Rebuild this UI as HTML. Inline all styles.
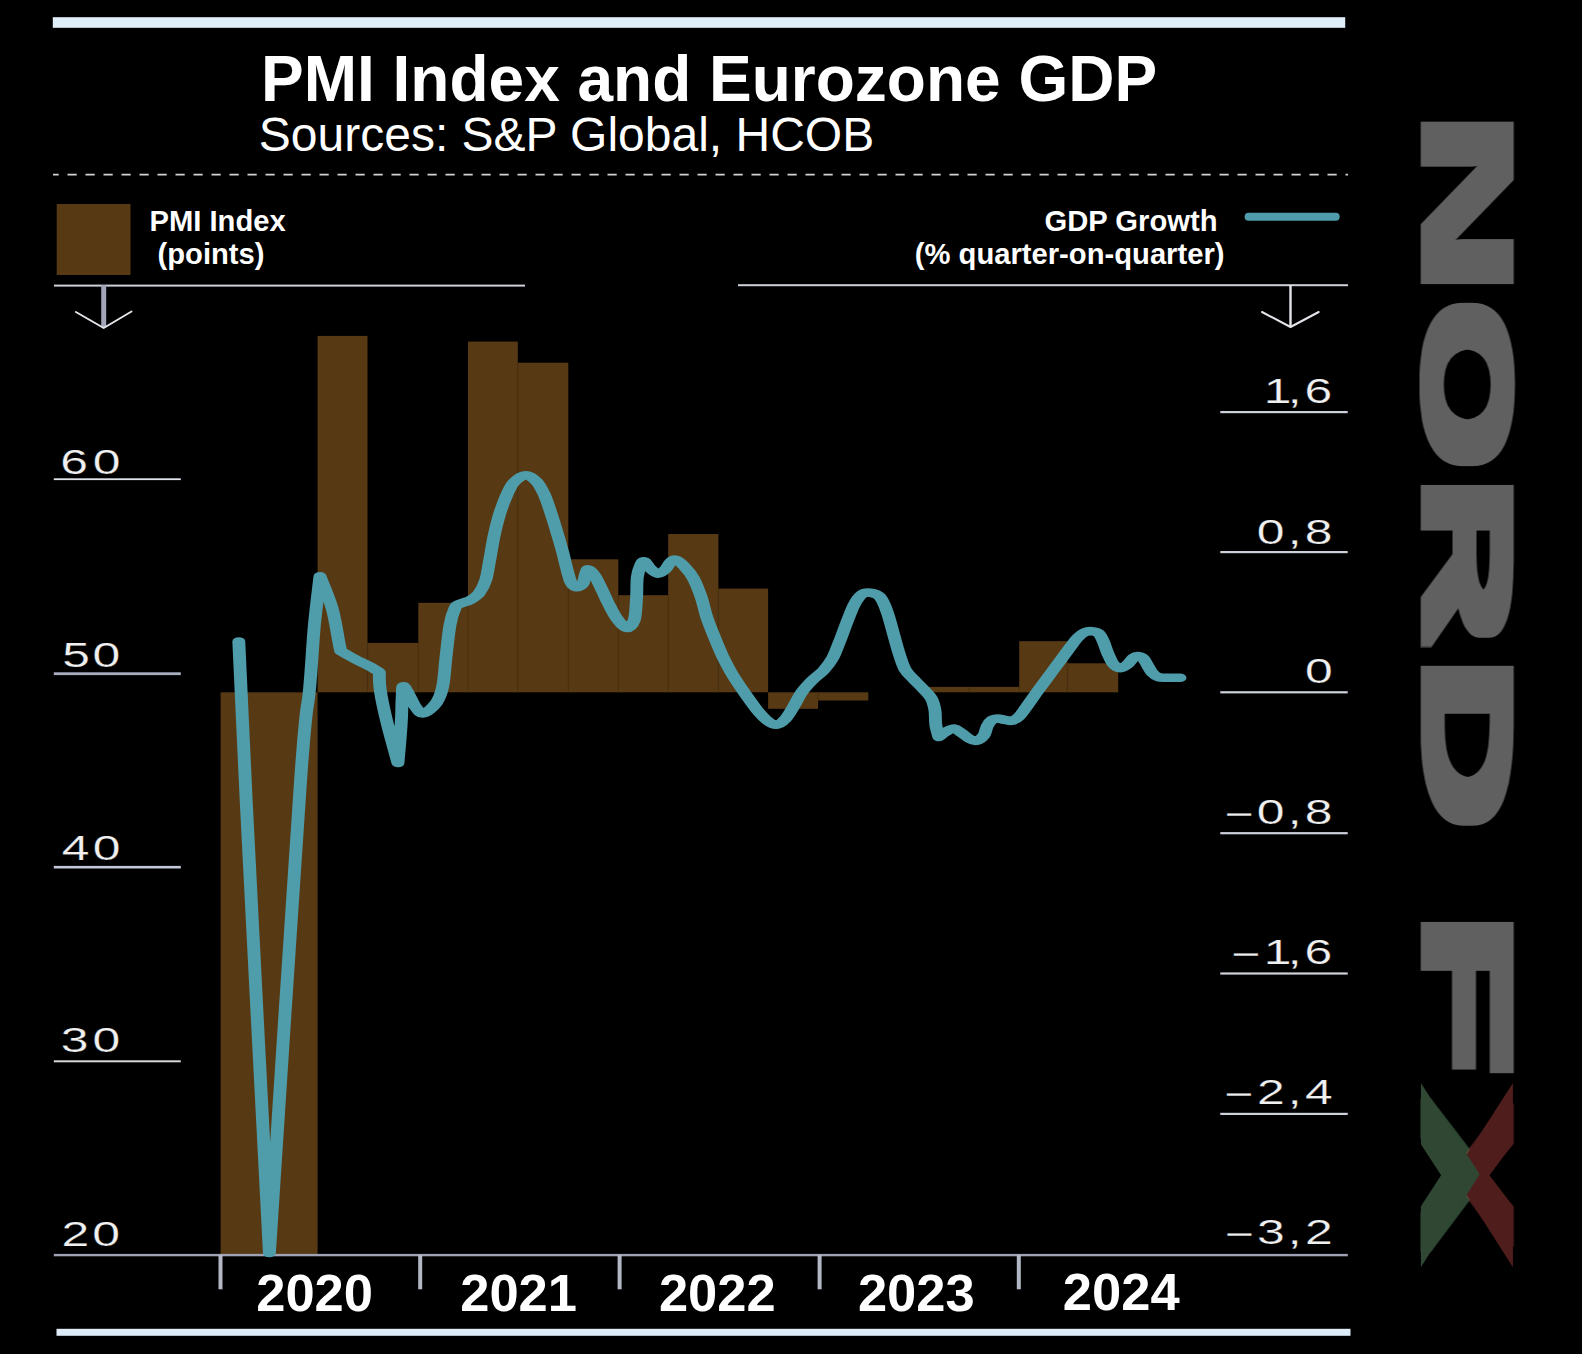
<!DOCTYPE html>
<html lang="en">
<head>
<meta charset="utf-8">
<title>PMI Index and Eurozone GDP</title>
<style>
html,body{margin:0;padding:0;background:#000;}
body{width:1582px;height:1354px;overflow:hidden;font-family:"Liberation Sans",sans-serif;}
svg{display:block;}
text{font-family:"Liberation Sans",sans-serif;fill:#fff;}
.title{font-weight:bold;font-size:64px;}
.sub{font-size:48px;}
.lg{font-weight:bold;font-size:29.2px;}
.ax{font-size:34.4px;fill:#f0f0f0;stroke:#000;stroke-width:0.25px;}
.yr{font-weight:bold;font-size:52.5px;}
.ln{fill:#cdd1da;}
.logo{font-family:"Liberation Mono","Liberation Sans",sans-serif;font-weight:bold;font-size:126.2px;fill:#616161;}
</style>
</head>
<body>
<svg width="1582" height="1354" viewBox="0 0 1582 1354">
<defs>
<linearGradient id="fx" gradientUnits="userSpaceOnUse" x1="0" y1="-93" x2="0" y2="0"><stop offset="0.5" stop-color="#4f1d1c"/><stop offset="0.5" stop-color="#2f4733"/></linearGradient>
<filter id="fat" x="-5%" y="-30%" width="110%" height="160%"><feMorphology operator="dilate" radius="0.8 5.2"/></filter>
</defs>
<rect width="1582" height="1354" fill="#000"/>

<!-- frame rules -->
<rect x="52.8" y="17.2" width="1292.4" height="10.6" fill="#e0eefa"/>
<rect x="56.5" y="1328.8" width="1294" height="7" fill="#deecf8"/>

<!-- heading -->
<text class="title" x="261" y="100.7">PMI Index and Eurozone GDP</text>
<text class="sub" x="258.8" y="151.3">Sources: S&amp;P Global, HCOB</text>
<line x1="53" y1="174.6" x2="1348" y2="174.6" stroke="#d2d2d2" stroke-width="1.9" stroke-dasharray="9.2 8.8" stroke-dashoffset="3.5"/>

<!-- legend -->
<rect x="56.7" y="204" width="73.8" height="71" fill="#573a14"/>
<text class="lg" x="149.5" y="231.2">PMI Index</text>
<text class="lg" x="157.5" y="263.8">(points)</text>
<text class="lg" text-anchor="end" x="1217.5" y="230.7">GDP Growth</text>
<text class="lg" text-anchor="end" x="1224.5" y="264.1">(% quarter-on-quarter)</text>
<line x1="1248.6" y1="216.8" x2="1335.7" y2="216.8" stroke="#4f9caa" stroke-width="8" stroke-linecap="round"/>

<!-- header rules + arrows -->
<rect class="ln" x="54" y="284.6" width="471" height="2"/>
<rect class="ln" x="738" y="284.2" width="610" height="2"/>
<rect x="101.2" y="285" width="5" height="42" fill="#a2a6b8"/>
<path d="M75.9 312 L103.7 328 L131.5 311.5" fill="none" stroke="#e4e4ea" stroke-width="2" stroke-linejoin="round" stroke-linecap="round"/>
<rect x="1289.3" y="285" width="2.4" height="42" fill="#e4e4ea"/>
<path d="M1262 312 L1290.5 327 L1318.7 312" fill="none" stroke="#e4e4ea" stroke-width="2" stroke-linejoin="round" stroke-linecap="round"/>

<!-- bars -->
<g fill="#573a14"><rect x="220.6" y="692.3" width="97.0" height="562.5"/><rect x="317.6" y="335.9" width="49.9" height="356.4"/><rect x="367.5" y="642.9" width="50.8" height="49.4"/><rect x="418.3" y="602.8" width="49.7" height="89.5"/><rect x="468.0" y="341.6" width="49.8" height="350.7"/><rect x="517.8" y="362.7" width="50.5" height="329.6"/><rect x="568.3" y="559.3" width="50.0" height="133.0"/><rect x="618.3" y="595.2" width="49.9" height="97.1"/><rect x="668.2" y="534.0" width="50.2" height="158.3"/><rect x="718.4" y="588.6" width="49.7" height="103.7"/><rect x="768.1" y="692.3" width="50.0" height="16.5"/><rect x="818.1" y="692.3" width="50.2" height="8.2"/><rect x="918.5" y="686.9" width="51.0" height="5.4"/><rect x="969.5" y="686.9" width="49.7" height="5.4"/><rect x="1019.2" y="641.2" width="48.3" height="51.1"/><rect x="1067.5" y="663.3" width="50.7" height="29.0"/></g>
<g fill="#4b3110" opacity="0.75"><rect x="366.8" y="642.9" width="1.4" height="49.4"/><rect x="417.6" y="642.9" width="1.4" height="49.4"/><rect x="467.3" y="602.8" width="1.4" height="89.5"/><rect x="517.1" y="362.7" width="1.4" height="329.6"/><rect x="567.6" y="559.3" width="1.4" height="133.0"/><rect x="617.6" y="595.2" width="1.4" height="97.1"/><rect x="667.5" y="595.2" width="1.4" height="97.1"/><rect x="717.7" y="588.6" width="1.4" height="103.7"/><rect x="817.4" y="692.3" width="1.4" height="8.2"/><rect x="968.8" y="686.9" width="1.4" height="5.4"/><rect x="1018.5" y="686.9" width="1.4" height="5.4"/><rect x="1066.8" y="663.3" width="1.4" height="29.0"/></g>

<!-- axes -->
<rect fill="#9ea2b4" x="53.8" y="1253.9" width="1294" height="2.4"/>
<g fill="#b4b8c4"><rect x="218.5" y="1254.8" width="4" height="34.5"/><rect x="418.2" y="1254.8" width="4" height="34.5"/><rect x="617.6" y="1254.8" width="4" height="34.5"/><rect x="817.6" y="1254.8" width="4" height="34.5"/><rect x="1016.8" y="1254.8" width="4" height="34.5"/></g>
<rect fill="#dfe3ea" x="53.8" y="478.3" width="127" height="1.8"/><text class="ax" transform="translate(0 473.5) scale(1.450 1)" x="41.49 63.90">60</text><rect fill="#a9adc0" x="53.8" y="672.3" width="127" height="2.8"/><text class="ax" transform="translate(0 667.0) scale(1.450 1)" x="43.00 63.76">50</text><rect fill="#c3c9da" x="53.8" y="865.9" width="127" height="2.6"/><text class="ax" transform="translate(0 860.0) scale(1.450 1)" x="42.59 64.04">40</text><rect fill="#d8d8da" x="53.8" y="1060.3" width="127" height="2.0"/><text class="ax" transform="translate(0 1052.0) scale(1.450 1)" x="41.93 63.83">30</text><text class="ax" transform="translate(0 1246.0) scale(1.450 1)" x="42.41 63.62">20</text><rect class="ln" x="1220.3" y="411.0" width="127.4" height="2.2"/><text class="ax" transform="translate(0 403.2) scale(1.450 1)" x="871.52 888.15 899.63">1,6</text><rect class="ln" x="1220.3" y="551.0" width="127.4" height="2.2"/><text class="ax" transform="translate(0 543.9) scale(1.450 1)" x="866.79 888.15 899.88">0,8</text><rect class="ln" x="1220.3" y="691.2" width="127.4" height="2.2"/><text class="ax" transform="translate(0 683.2) scale(1.450 1)" x="900.04">0</text><rect class="ln" x="1220.3" y="832.1" width="127.4" height="2.2"/><text class="ax" transform="translate(0 823.9) scale(1.450 1)" x="844.37 866.79 888.15 899.88" dy="2.4 -2.4 0.0 0.0">−0,8</text><rect class="ln" x="1220.3" y="972.4" width="127.4" height="2.2"/><text class="ax" transform="translate(0 963.5) scale(1.450 1)" x="848.99 871.52 888.15 899.63" dy="2.4 -2.4 0.0 0.0">−1,6</text><rect class="ln" x="1220.3" y="1112.8" width="127.4" height="2.2"/><text class="ax" transform="translate(0 1103.8) scale(1.450 1)" x="844.23 866.96 888.15 900.04" dy="2.4 -2.4 0.0 0.0">−2,4</text><text class="ax" transform="translate(0 1243.8) scale(1.450 1)" x="844.51 866.83 888.15 899.93" dy="2.4 -2.4 0.0 0.0">−3,2</text>
<text class="yr" x="256.2" y="1310.9">2020</text><text class="yr" x="460.2" y="1310.9">2021</text><text class="yr" x="658.9" y="1310.9">2022</text><text class="yr" x="857.9" y="1310.9">2023</text><text class="yr" x="1062.8" y="1309.7">2024</text>

<!-- GDP line -->
<g transform="scale(1.5 1)"><path d="M159.2 641.5C160.0 667.9 160.7 698.1 164.1 800.0C167.5 901.9 177.0 1177.5 179.6 1253.0C183.1 1174.2 195.9 873.8 200.4 780.0C204.9 686.2 204.8 715.8 206.3 690.0C207.9 664.2 208.4 644.0 209.6 625.0C210.8 606.0 212.7 584.3 213.3 576.2C214.7 581.6 219.4 597.9 221.5 608.7C223.5 619.5 224.9 634.2 225.8 641.2C226.7 648.2 226.9 649.4 227.1 651.0C228.7 652.4 233.3 656.4 236.7 659.1C240.1 661.8 244.8 665.0 247.5 667.2C250.2 669.4 252.0 671.3 252.9 672.1C253.0 675.1 252.6 681.6 253.5 690.0C254.3 698.4 256.0 710.3 258.0 722.5C260.0 734.7 264.1 756.2 265.3 763.0C265.7 756.2 267.1 733.3 267.5 722.5C268.0 711.7 267.8 704.0 268.1 698.0C268.4 692.0 267.9 685.0 269.3 686.4C270.8 687.8 274.6 701.7 276.7 706.2C278.9 710.7 279.8 713.9 282.1 713.4C284.5 712.9 288.6 707.5 290.8 703.0C293.0 698.5 294.0 694.3 295.1 686.7C296.2 679.1 296.5 667.8 297.3 657.5C298.1 647.2 299.0 633.3 300.0 625.0C301.0 616.7 302.4 611.2 303.5 607.6C304.7 604.0 305.4 604.8 307.1 603.6C308.7 602.4 311.2 602.1 313.3 600.3C315.3 598.5 317.7 596.3 319.5 592.9C321.2 589.5 322.7 585.1 323.9 579.6C325.0 574.1 325.6 566.8 326.5 559.7C327.4 552.6 328.2 544.4 329.2 537.1C330.2 529.8 331.4 522.4 332.7 515.8C334.1 509.1 335.6 502.7 337.2 497.2C338.8 491.7 340.3 486.2 342.5 482.6C344.7 479.0 348.0 475.5 350.5 475.3C353.0 475.1 355.5 478.1 357.6 481.3C359.7 484.5 361.2 489.3 362.9 494.6C364.5 499.9 365.9 506.6 367.3 513.2C368.8 519.8 370.4 527.8 371.7 534.4C373.1 541.0 374.2 547.3 375.3 553.1C376.3 558.9 377.0 564.1 377.9 569.0C378.8 573.9 379.6 579.2 380.6 582.3C381.6 585.3 382.8 587.1 384.1 587.3C385.5 587.5 387.6 585.8 388.6 583.6C389.6 581.4 389.7 576.7 390.3 574.3C390.9 571.9 391.1 569.2 392.1 569.4C393.2 569.6 394.9 572.0 396.5 575.7C398.2 579.4 400.4 587.2 401.9 591.6C403.3 596.0 403.6 597.5 405.1 602.0C406.7 606.5 408.9 614.0 411.1 618.3C413.2 622.6 416.0 627.8 417.9 628.0C419.9 628.2 421.8 624.5 422.9 619.7C423.9 614.9 424.0 606.2 424.3 599.1C424.7 592.0 424.4 582.7 424.9 576.9C425.4 571.1 426.5 567.0 427.3 564.4C428.1 561.8 428.7 560.8 429.7 561.5C430.8 562.2 432.2 566.8 433.7 568.8C435.1 570.8 437.0 573.6 438.6 573.7C440.2 573.8 442.1 571.4 443.5 569.5C444.9 567.6 445.9 563.8 447.0 562.2C448.1 560.6 448.8 559.1 450.4 559.8C452.0 560.5 454.4 563.5 456.3 566.6C458.3 569.7 460.5 573.5 462.3 578.4C464.1 583.3 465.7 589.7 467.2 596.1C468.7 602.5 469.7 610.1 471.1 616.8C472.6 623.4 474.2 629.4 476.0 636.0C477.8 642.6 479.8 650.1 481.9 656.7C484.1 663.4 486.3 669.8 488.8 675.9C491.3 682.0 494.1 688.0 496.7 693.6C499.4 699.2 502.1 705.3 504.6 709.8C507.1 714.3 509.5 718.2 511.6 720.7C513.7 723.2 515.5 725.0 517.5 724.8C519.4 724.5 521.4 722.4 523.4 719.2C525.4 716.1 527.5 710.3 529.3 705.9C531.1 701.5 532.3 696.8 534.3 692.6C536.2 688.4 538.7 684.5 541.1 680.8C543.6 677.1 546.7 674.1 549.0 670.4C551.3 666.7 553.1 663.5 554.9 658.6C556.7 653.7 558.2 647.0 559.9 640.9C561.5 634.8 563.1 627.9 564.7 621.7C566.4 615.6 568.0 608.5 569.7 604.0C571.3 599.5 572.9 596.3 574.6 594.4C576.3 592.5 578.0 592.3 580.0 592.7C582.0 593.1 584.5 593.5 586.4 596.6C588.3 599.7 589.9 605.5 591.3 611.4C592.8 617.3 594.0 625.1 595.3 632.0C596.6 638.9 597.9 646.5 599.2 652.7C600.5 658.9 601.6 664.6 603.2 669.0C604.8 673.4 607.1 676.1 609.1 679.3C611.0 682.5 613.0 685.0 615.0 688.2C617.0 691.4 619.5 694.8 620.9 698.5C622.3 702.2 622.8 705.9 623.3 710.3C623.8 714.7 623.4 720.6 623.9 725.1C624.3 729.6 625.6 735.0 625.9 737.0C626.7 736.1 629.0 733.1 630.7 731.7C632.4 730.3 634.5 728.4 636.2 728.6C637.9 728.8 639.2 731.2 640.9 732.9C642.6 734.6 644.7 737.5 646.4 738.8C648.1 740.1 649.6 741.3 651.1 740.7C652.7 740.1 654.7 737.8 655.9 735.3C657.1 732.8 657.3 728.4 658.3 725.8C659.2 723.2 660.2 721.1 661.4 719.9C662.6 718.7 663.9 718.6 665.3 718.6C666.8 718.6 668.5 719.5 670.1 719.9C671.6 720.3 673.2 721.4 674.8 720.8C676.4 720.2 678.0 718.7 679.5 716.4C681.1 714.1 682.2 711.2 684.3 706.9C686.4 702.6 689.5 695.8 692.1 690.4C694.8 685.0 697.4 679.8 700.0 674.5C702.6 669.2 705.6 663.0 707.9 658.5C710.1 654.0 711.6 651.0 713.3 647.5C715.1 644.0 716.8 640.1 718.5 637.6C720.1 635.1 721.6 633.4 723.2 632.3C724.8 631.2 726.4 631.0 727.9 631.2C729.5 631.4 731.4 632.0 732.7 633.7C733.9 635.4 734.6 638.4 735.6 641.6C736.6 644.9 737.4 649.5 738.5 653.2C739.6 656.9 740.7 661.3 742.1 663.8C743.5 666.3 745.3 668.0 746.9 668.1C748.4 668.2 750.1 666.5 751.5 664.7C753.0 663.0 754.5 659.0 755.7 657.6C756.9 656.2 757.6 656.0 758.7 656.1C759.8 656.2 761.1 656.9 762.2 658.5C763.3 660.1 764.1 663.2 765.1 665.6C766.1 668.0 766.9 670.8 768.1 672.7C769.3 674.6 770.7 676.3 772.3 677.1C773.8 677.9 775.1 677.6 777.5 677.7C779.9 677.8 785.1 677.7 786.7 677.7" fill="none" stroke="#4f9caa" stroke-width="8.6" stroke-linecap="round" stroke-linejoin="round"/></g>

<!-- NordFX wordmark (rotated) -->
<g transform="translate(1420.5 0) rotate(90)">
  <g filter="url(#fat)"><text class="logo" y="-5.2"><tspan x="100.1" textLength="205.6" lengthAdjust="spacingAndGlyphs">N</tspan><tspan x="293.1" textLength="182.8" lengthAdjust="spacingAndGlyphs">O</tspan><tspan x="465.7" textLength="181.8" lengthAdjust="spacingAndGlyphs">R</tspan><tspan x="645.8" textLength="191.4" lengthAdjust="spacingAndGlyphs">D</tspan> <tspan x="896.4" textLength="195.4" lengthAdjust="spacingAndGlyphs">F</tspan><tspan x="1098.8" textLength="152.9" lengthAdjust="spacingAndGlyphs" fill="url(#fx)">X</tspan></text></g>
  <polygon points="1083,-92.4 1143.3,-92.4 1175.2,-69 1206.2,-92.4 1267.3,-92.4 1174.8,-33.5" fill="#4f1d1c"/>
  <polygon points="1083,-0.4 1174.3,-59.2 1267.3,-0.4 1206.2,-0.4 1175.2,-20.6 1144.2,-0.4" fill="#2f4733"/>
</g>
</svg>
</body>
</html>
